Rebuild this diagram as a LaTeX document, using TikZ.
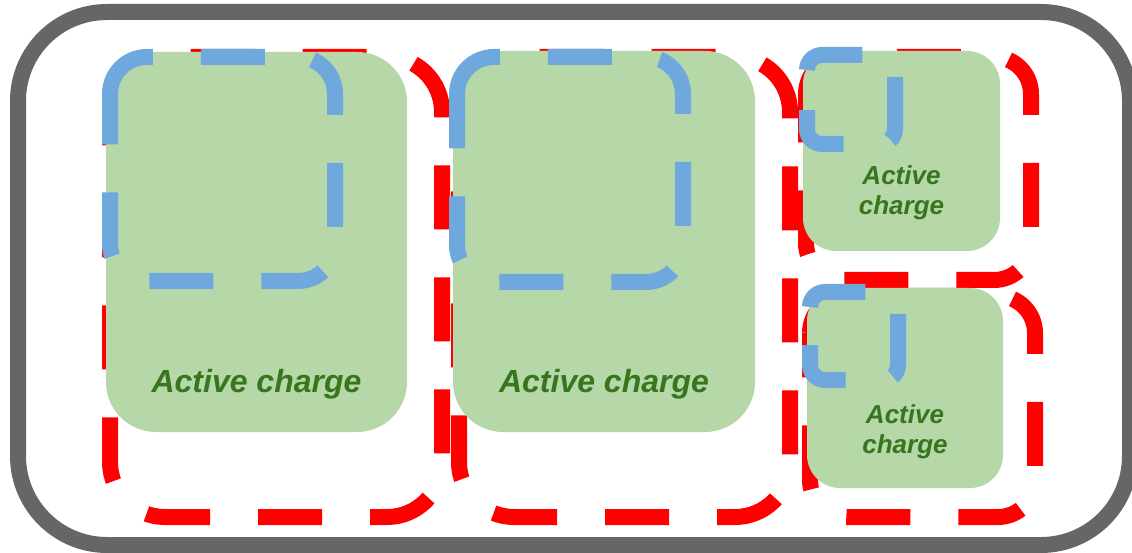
\documentclass[tikz,border=0pt]{standalone}
\usepackage{fontspec}
\setmainfont{Liberation Sans}
\usetikzlibrary{positioning}
\definecolor{cgrey}{HTML}{666666}
\definecolor{cred}{HTML}{FF0000}
\definecolor{cblue}{HTML}{6FA8DC}
\definecolor{cgreen}{HTML}{B6D7A8}
\definecolor{ctext}{HTML}{38761D}
\tikzset{
  every picture/.style={x=1pt, y=-1pt},
  housing/.style={draw=cgrey, line width=16pt, rounded corners=89pt},
  zone/.style={draw=#1, line width=16pt, dash pattern=on 64pt off 48pt},
  charge/.style={fill=cgreen, draw=none, rounded corners=#1, inner sep=0pt},
  lbl/.style={text=ctext, anchor=base, align=center, inner sep=0pt,
    font=\bfseries\itshape\fontsize{32}{36}\selectfont},
  lblsmall/.style={lbl, font=\bfseries\itshape\fontsize{26}{30}\selectfont},
}

\begin{document}
\begin{tikzpicture}
  \useasboundingbox (0,0) rectangle (1132,553);
  \clip (0,0) rectangle (1132,553);
  \draw[housing] (18,12) rectangle (1130,545);
  % red zones (left, top, right, bottom, radius)
  \foreach \l/\t/\r/\b/\c in {110/57/442/517/55, 459/57/790/517/55, 806/57/1031/280/37, 810/296/1035/517/37}
    \draw[zone=cred, rounded corners=\c pt] (\l,{\t+\c}) -- (\l,\t) -- (\r,\t) -- (\r,\b) -- (\l,\b) -- (\l,{\t+\c});
  % active charge boxes
  \node[charge=50pt, minimum width=301pt, minimum height=380pt] (g1) at (256.5,242) {};
  \node[charge=50pt, minimum width=302pt, minimum height=381pt] (g2) at (604,241.5) {};
  \node[charge=33pt, minimum width=197pt, minimum height=200pt] (g3) at (901.5,151) {};
  \node[charge=33pt, minimum width=196pt, minimum height=200pt] (g4) at (905,388) {};
  % blue zones
  \foreach \l/\t/\r/\b/\c in {110/57/335/281/37, 457/57/683/282/37, 807/55/895/144/15, 810/292/898/380/15}
    \draw[zone=cblue, rounded corners=\c pt] (\l,{\t+\c}) -- (\l,\t) -- (\r,\t) -- (\r,\b) -- (\l,\b) -- (\l,{\t+\c});
  \node[lbl] (t1) at (256.5,392) {Active charge};
  \node[lbl] (t2) at (604,392) {Active charge};
  \node[lblsmall] (t3) at (901.5,215) {Active\\charge};
  \node[lblsmall] (t4) at (905,453) {Active\\charge};
\end{tikzpicture}
\end{document}
